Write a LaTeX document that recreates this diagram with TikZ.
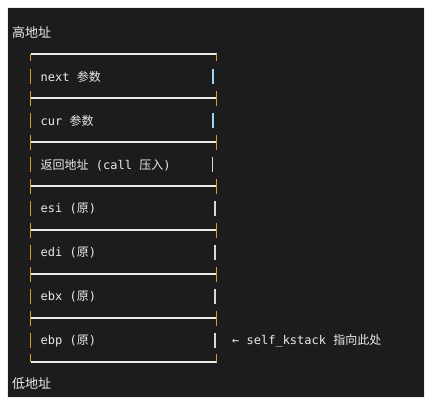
\documentclass[tikz,border=0pt]{standalone}
\usepackage{fontspec}
\newfontfamily\cjk{Noto Sans CJK SC}
\newfontfamily\mono{DejaVu Sans Mono}
\definecolor{panel}{HTML}{1C1C1C}
\definecolor{txt}{HTML}{EAEAEA}
\definecolor{amber}{HTML}{D69A2E}
\definecolor{rowblue}{HTML}{9AD4F2}
\definecolor{rowgrey}{HTML}{D8D8D8}
\tikzset{
  celltext/.style={anchor=west, inner sep=0pt, text=txt, font=\mono\fontsize{12}{14}\selectfont},
  sidelabel/.style={anchor=west, inner sep=0pt, text=txt, font=\cjk\fontsize{13}{15}\selectfont},
  hline/.style={draw=txt, line width=1.1pt},
  bar/.style={draw=amber, line width=1.3pt},
  rbar/.style={line width=1.3pt}
}
\begin{document}
\begin{tikzpicture}[x=1pt,y=-1pt]
\useasboundingbox (0,0) rectangle (432,406);
\fill[white] (0,0) rectangle (432,406);
\fill[black!8] (7,7) rectangle (425,398);
\fill[panel] (8,8) rectangle (424,397);
% labels
\node[sidelabel] (hi) at (12,33) {高地址};
\node[sidelabel] (lo) at (12,384) {低地址};
% horizontal lines
\foreach \i in {0,...,7} {
  \draw[hline] (30.5,{54+44*\i}) -- (216.5,{54+44*\i});
}
% corner bars
\draw[bar] (30.5,54) -- (30.5,61.5);
\draw[bar] (216.5,54) -- (216.5,61.5);
\draw[bar] (30.5,354.5) -- (30.5,362);
\draw[bar] (216.5,354.5) -- (216.5,362);
% text row left bars and separator bars
\foreach \i in {0,...,6} {
  \draw[bar] (30.5,{69+44*\i}) -- (30.5,{84.5+44*\i});
}
\foreach \i in {1,...,6} {
  \draw[bar] (30.5,{91+44*(\i-1)}) -- (30.5,{106+44*(\i-1)});
  \draw[bar] (216.5,{91+44*(\i-1)}) -- (216.5,{106+44*(\i-1)});
}
% right bars of text rows
\draw[rbar, rowblue] (213,69) -- (213,84.5);
\draw[rbar, rowblue] (213,113) -- (213,128.5);
\draw[rbar, rowgrey] (212.5,157) -- (212.5,172.5);
\draw[rbar, rowgrey] (215,201) -- (215,216.5);
\draw[rbar, rowgrey] (215,245) -- (215,260.5);
\draw[rbar, rowgrey] (215,289) -- (215,304.5);
\draw[rbar, rowgrey] (215,333) -- (215,348.5);
% cell texts
\node[celltext] (r1) at (40.5,77) {next {\cjk 参数}};
\node[celltext] (r2) at (40.5,121) {cur {\cjk 参数}};
\node[celltext] (r3) at (40.5,165) {{\cjk 返回地址} (call {\cjk 压入})};
\node[celltext] (r4) at (40.5,209) {esi ({\cjk 原})};
\node[celltext] (r5) at (40.5,253) {edi ({\cjk 原})};
\node[celltext] (r6) at (40.5,297) {ebx ({\cjk 原})};
\node[celltext] (r7) at (40.5,341) {ebp ({\cjk 原})};
\node[celltext] (ptr) at (232,341) {← self\_kstack {\cjk 指向此处}};
\end{tikzpicture}
\end{document}
